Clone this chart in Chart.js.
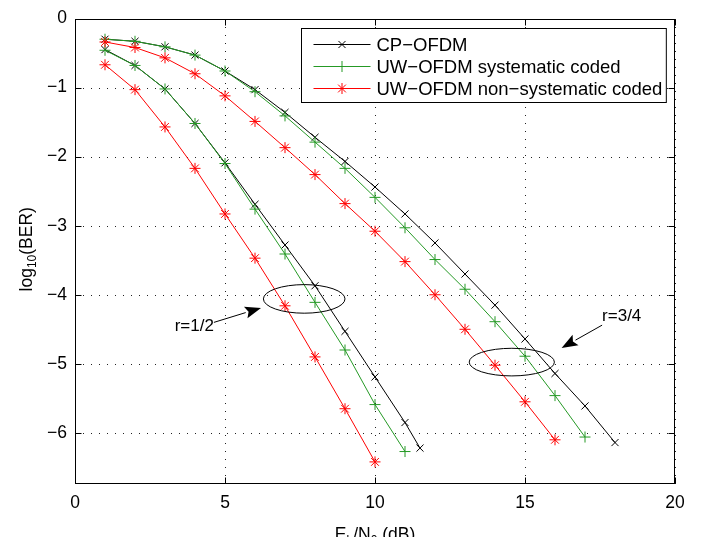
<!DOCTYPE html>
<html>
<head>
<meta charset="utf-8">
<script src="https://cdn.jsdelivr.net/npm/chart.js@4.4.1/dist/chart.umd.min.js"></script>
<style>
  html, body { margin: 0; padding: 0; background: #fff; }
  #wrap { width: 702px; height: 537px; }
</style>
</head>
<body>
<div id="wrap"><canvas id="myChart" width="702" height="537"></canvas></div>
<script>
// Eb/N0 in dB, one list per curve (curves end at different points)
var snrCpHalf = [1, 2, 3, 4, 5, 6, 7, 8, 9, 10, 11, 11.5];
var snrSysHalf = [1, 2, 3, 4, 5, 6, 7, 8, 9, 10, 11];
var snrNonHalf = [1, 2, 3, 4, 5, 6, 7, 8, 9, 10];
var snrCpThree = [1, 2, 3, 4, 5, 6, 7, 8, 9, 10, 11, 12, 13, 14, 15, 16, 17, 18];
var snrSysThree = [1, 2, 3, 4, 5, 6, 7, 8, 9, 10, 11, 12, 13, 14, 15, 16, 17];
var snrNonThree = [1, 2, 3, 4, 5, 6, 7, 8, 9, 10, 11, 12, 13, 14, 15, 16];

// log10(BER), code rate r=1/2
var cpHalf = [-0.45, -0.68, -1.02, -1.52, -2.09, -2.69, -3.28, -3.87, -4.53, -5.19, -5.85, -6.22];
var sysHalf = [-0.46, -0.68, -1.02, -1.52, -2.10, -2.76, -3.41, -4.11, -4.80, -5.59, -6.27];
var nonHalf = [-0.67, -1.03, -1.57, -2.17, -2.83, -3.47, -4.16, -4.90, -5.65, -6.42];

// log10(BER), code rate r=3/4
var cpThree = [-0.30, -0.33, -0.41, -0.53, -0.76, -1.03, -1.36, -1.72, -2.07, -2.44, -2.83, -3.25, -3.70, -4.15, -4.64, -5.14, -5.61, -6.14];
var sysThree = [-0.30, -0.33, -0.41, -0.53, -0.76, -1.06, -1.41, -1.79, -2.17, -2.59, -3.03, -3.49, -3.92, -4.39, -4.89, -5.46, -6.06];
var nonThree = [-0.34, -0.42, -0.57, -0.80, -1.12, -1.49, -1.87, -2.26, -2.68, -3.08, -3.52, -4.00, -4.50, -5.02, -5.55, -6.10];

var seriesNames = ['CP\u2212OFDM', 'UW\u2212OFDM systematic coded', 'UW\u2212OFDM non\u2212systematic coded'];
var xTicks = [0, 5, 10, 15, 20];
var yTicks = [0, -1, -2, -3, -4, -5, -6];

var BLACK = '#000000';
var GREEN = '#259925';
var RED = '#ff0000';
var FONT = '"Liberation Sans", Arial, Helvetica, sans-serif';

function pts(xs, ys) {
  var out = [];
  for (var i = 0; i < ys.length; i++) out.push({x: xs[i], y: ys[i]});
  return out;
}

function curve(name, xs, ys, color, style, radius, order) {
  return {
    label: name,
    data: pts(xs, ys),
    borderColor: color,
    backgroundColor: color,
    borderWidth: 1,
    pointStyle: style,
    pointRadius: radius,
    pointBorderColor: color,
    pointBorderWidth: 1,
    pointHoverRadius: radius,
    tension: 0,
    fill: false,
    order: order
  };
}

// ellipses / arrows / labels, in data units
var notes = [
  {text: 'r=1/2', ty: -4.53, from: [4.63, -4.4], to: [6.2, -4.19], cx: 7.64, cy: -4.06, rx: 1.36, ry: 0.207, left: true},
  {text: 'r=3/4', ty: -4.38, from: [17.57, -4.44], to: [16.22, -4.77], cx: 14.56, cy: -4.975, rx: 1.42, ry: 0.20, left: false}
];

function fmt(v) {
  return v < 0 ? '\u2212' + Math.abs(v) : String(v);
}

var framePlugin = {
  id: 'frame',
  beforeDatasetsDraw: function(chart) {
    var ctx = chart.ctx, a = chart.chartArea;
    var xs = chart.scales.x, ys = chart.scales.y;
    ctx.save();
    ctx.strokeStyle = '#222';
    ctx.lineWidth = 1;
    ctx.setLineDash([1, 7]);
    xTicks.forEach(function(v) {
      var px = Math.round(xs.getPixelForValue(v)) + 0.5;
      ctx.beginPath(); ctx.moveTo(px, a.bottom); ctx.lineTo(px, a.top); ctx.stroke();
    });
    yTicks.forEach(function(v) {
      var py = Math.round(ys.getPixelForValue(v)) + 0.5;
      ctx.beginPath(); ctx.moveTo(a.left, py); ctx.lineTo(a.right, py); ctx.stroke();
    });
    ctx.restore();
  },
  afterDraw: function(chart) {
    var ctx = chart.ctx, a = chart.chartArea;
    var xs = chart.scales.x, ys = chart.scales.y;
    var L = Math.round(a.left) + 0.5, R = Math.round(a.right) - 0.5;
    var T = Math.round(a.top) + 0.5, B = Math.round(a.bottom) - 0.5;
    ctx.save();
    ctx.strokeStyle = BLACK;
    ctx.lineWidth = 1;
    ctx.strokeRect(L, T, R - L, B - T);
    // inward tick marks on all four sides
    var tl = 6;
    xTicks.forEach(function(v) {
      var px = Math.round(xs.getPixelForValue(v)) + 0.5;
      ctx.beginPath();
      ctx.moveTo(px, B); ctx.lineTo(px, B - tl);
      ctx.moveTo(px, T); ctx.lineTo(px, T + tl);
      ctx.stroke();
    });
    yTicks.forEach(function(v) {
      var py = Math.round(ys.getPixelForValue(v)) + 0.5;
      ctx.beginPath();
      ctx.moveTo(L, py); ctx.lineTo(L + tl, py);
      ctx.moveTo(R, py); ctx.lineTo(R - tl, py);
      ctx.stroke();
    });

    // annotations
    ctx.fillStyle = BLACK;
    ctx.font = '17px ' + FONT;
    ctx.textBaseline = 'alphabetic';
    ctx.textAlign = 'left';
    notes.forEach(function(n) {
      var cx = xs.getPixelForValue(n.cx), cy = ys.getPixelForValue(n.cy);
      var rx = Math.abs(xs.getPixelForValue(n.cx + n.rx) - cx);
      var ry = Math.abs(ys.getPixelForValue(n.cy + n.ry) - cy);
      ctx.beginPath();
      ctx.ellipse(cx, cy, rx, ry, 0, 0, Math.PI * 2);
      ctx.stroke();
      var x1 = xs.getPixelForValue(n.from[0]), y1 = ys.getPixelForValue(n.from[1]);
      var x2 = xs.getPixelForValue(n.to[0]), y2 = ys.getPixelForValue(n.to[1]);
      var ang = Math.atan2(y2 - y1, x2 - x1);
      var hl = 16, hw = 6;
      var bx = x2 - hl * Math.cos(ang), by = y2 - hl * Math.sin(ang);
      ctx.beginPath(); ctx.moveTo(x1, y1); ctx.lineTo(bx, by); ctx.stroke();
      ctx.beginPath();
      ctx.moveTo(x2, y2);
      ctx.lineTo(bx + hw * Math.sin(ang), by - hw * Math.cos(ang));
      ctx.lineTo(bx + 3 * Math.cos(ang), by + 3 * Math.sin(ang));
      ctx.lineTo(bx - hw * Math.sin(ang), by + hw * Math.cos(ang));
      ctx.closePath();
      ctx.fill();
      var ty = ys.getPixelForValue(n.ty);
      if (n.left) {
        var w = ctx.measureText(n.text).width;
        ctx.fillText(n.text, x1 - w, ty);
      } else {
        ctx.fillText(n.text, x1, ty);
      }
    });

    // legend box in upper right corner of the axes
    ctx.font = '18.5px ' + FONT;
    ctx.textAlign = 'left';
    ctx.textBaseline = 'middle';
    var maxW = 0;
    seriesNames.forEach(function(s) { maxW = Math.max(maxW, ctx.measureText(s).width); });
    var bw = 75 + maxW + 4, bh = 74;
    var bl = Math.round(a.right - 9 - bw) + 0.5, bt = Math.round(a.top + 9) + 0.5;
    ctx.fillStyle = '#fff';
    ctx.fillRect(bl, bt, bw, bh);
    ctx.strokeStyle = BLACK;
    ctx.strokeRect(bl, bt, bw, bh);
    var colors = [BLACK, GREEN, RED];
    var styles = ['crossRot', 'cross', 'star'];
    var radii = [5, 5.5, 5.5];
    for (var i = 0; i < 3; i++) {
      var ry2 = Math.round(bt + 15 + i * 22) + 0.5;
      ctx.strokeStyle = colors[i];
      ctx.lineWidth = 1;
      ctx.beginPath(); ctx.moveTo(bl + 12, ry2); ctx.lineTo(bl + 69, ry2); ctx.stroke();
      Chart.helpers.drawPoint(ctx, {pointStyle: styles[i], radius: radii[i], borderWidth: 1, rotation: 0}, bl + 40.5, ry2);
      ctx.fillStyle = BLACK;
      ctx.fillText(seriesNames[i], bl + 75, ry2 + 1);
    }

    // axis titles with subscripts
    ctx.fillStyle = BLACK;
    ctx.textBaseline = 'alphabetic';
    var big = '17.5px ' + FONT, small = '12px ' + FONT;
    var xParts = [['E', big, 0], ['b', small, 4], ['/N', big, 0], ['0', small, 4], [' (dB)', big, 0]];
    var total = 0;
    xParts.forEach(function(p) { ctx.font = p[1]; total += ctx.measureText(p[0]).width; });
    var sx = (a.left + a.right) / 2 - total / 2;
    xParts.forEach(function(p) {
      ctx.font = p[1];
      ctx.fillText(p[0], sx, 540 + p[2]);
      sx += ctx.measureText(p[0]).width;
    });

    var yParts = [['log', big, 0], ['10', small, 4], ['(BER)', big, 0]];
    total = 0;
    yParts.forEach(function(p) { ctx.font = p[1]; total += ctx.measureText(p[0]).width; });
    ctx.translate(32, (a.top + a.bottom) / 2 - 2);
    ctx.rotate(-Math.PI / 2);
    var sy = -total / 2;
    yParts.forEach(function(p) {
      ctx.font = p[1];
      ctx.fillText(p[0], sy, p[2]);
      sy += ctx.measureText(p[0]).width;
    });
    ctx.restore();
  }
};

var canvas = document.getElementById('myChart');
var ctx = canvas.getContext('2d');
var chart = new Chart(ctx, {
  type: 'line',
  data: {
    datasets: [
      curve(seriesNames[0], snrCpThree, cpThree, BLACK, 'crossRot', 5, 3),
      curve(seriesNames[1], snrSysThree, sysThree, GREEN, 'cross', 5.5, 2),
      curve(seriesNames[2], snrNonThree, nonThree, RED, 'star', 5.5, 1),
      curve(seriesNames[0], snrCpHalf, cpHalf, BLACK, 'crossRot', 5, 3),
      curve(seriesNames[1], snrSysHalf, sysHalf, GREEN, 'cross', 5.5, 2),
      curve(seriesNames[2], snrNonHalf, nonHalf, RED, 'star', 5.5, 1)
    ]
  },
  options: {
    responsive: false,
    animation: false,
    events: [],
    layout: { padding: { top: 12, right: 27, left: 0, bottom: 0 } },
    plugins: {
      legend: { display: false },
      tooltip: { enabled: false }
    },
    scales: {
      x: {
        type: 'linear',
        min: 0,
        max: 20,
        grid: { display: false, drawTicks: false },
        border: { display: false },
        ticks: {
          stepSize: 5,
          color: BLACK,
          padding: 9,
          font: { size: 17.5, family: FONT },
          maxRotation: 0,
          callback: function(v) { return fmt(v); }
        },
        afterFit: function(scale) { scale.height = 53; }
      },
      y: {
        type: 'linear',
        min: -6.74,
        max: 0,
        grid: { display: false, drawTicks: false },
        border: { display: false },
        ticks: {
          stepSize: 1,
          includeBounds: false,
          color: BLACK,
          padding: 8,
          font: { size: 17.5, family: FONT },
          callback: function(v) { return fmt(v); }
        },
        afterFit: function(scale) { scale.width = 75; }
      }
    }
  },
  plugins: [framePlugin]
});
</script>
</body>
</html>
